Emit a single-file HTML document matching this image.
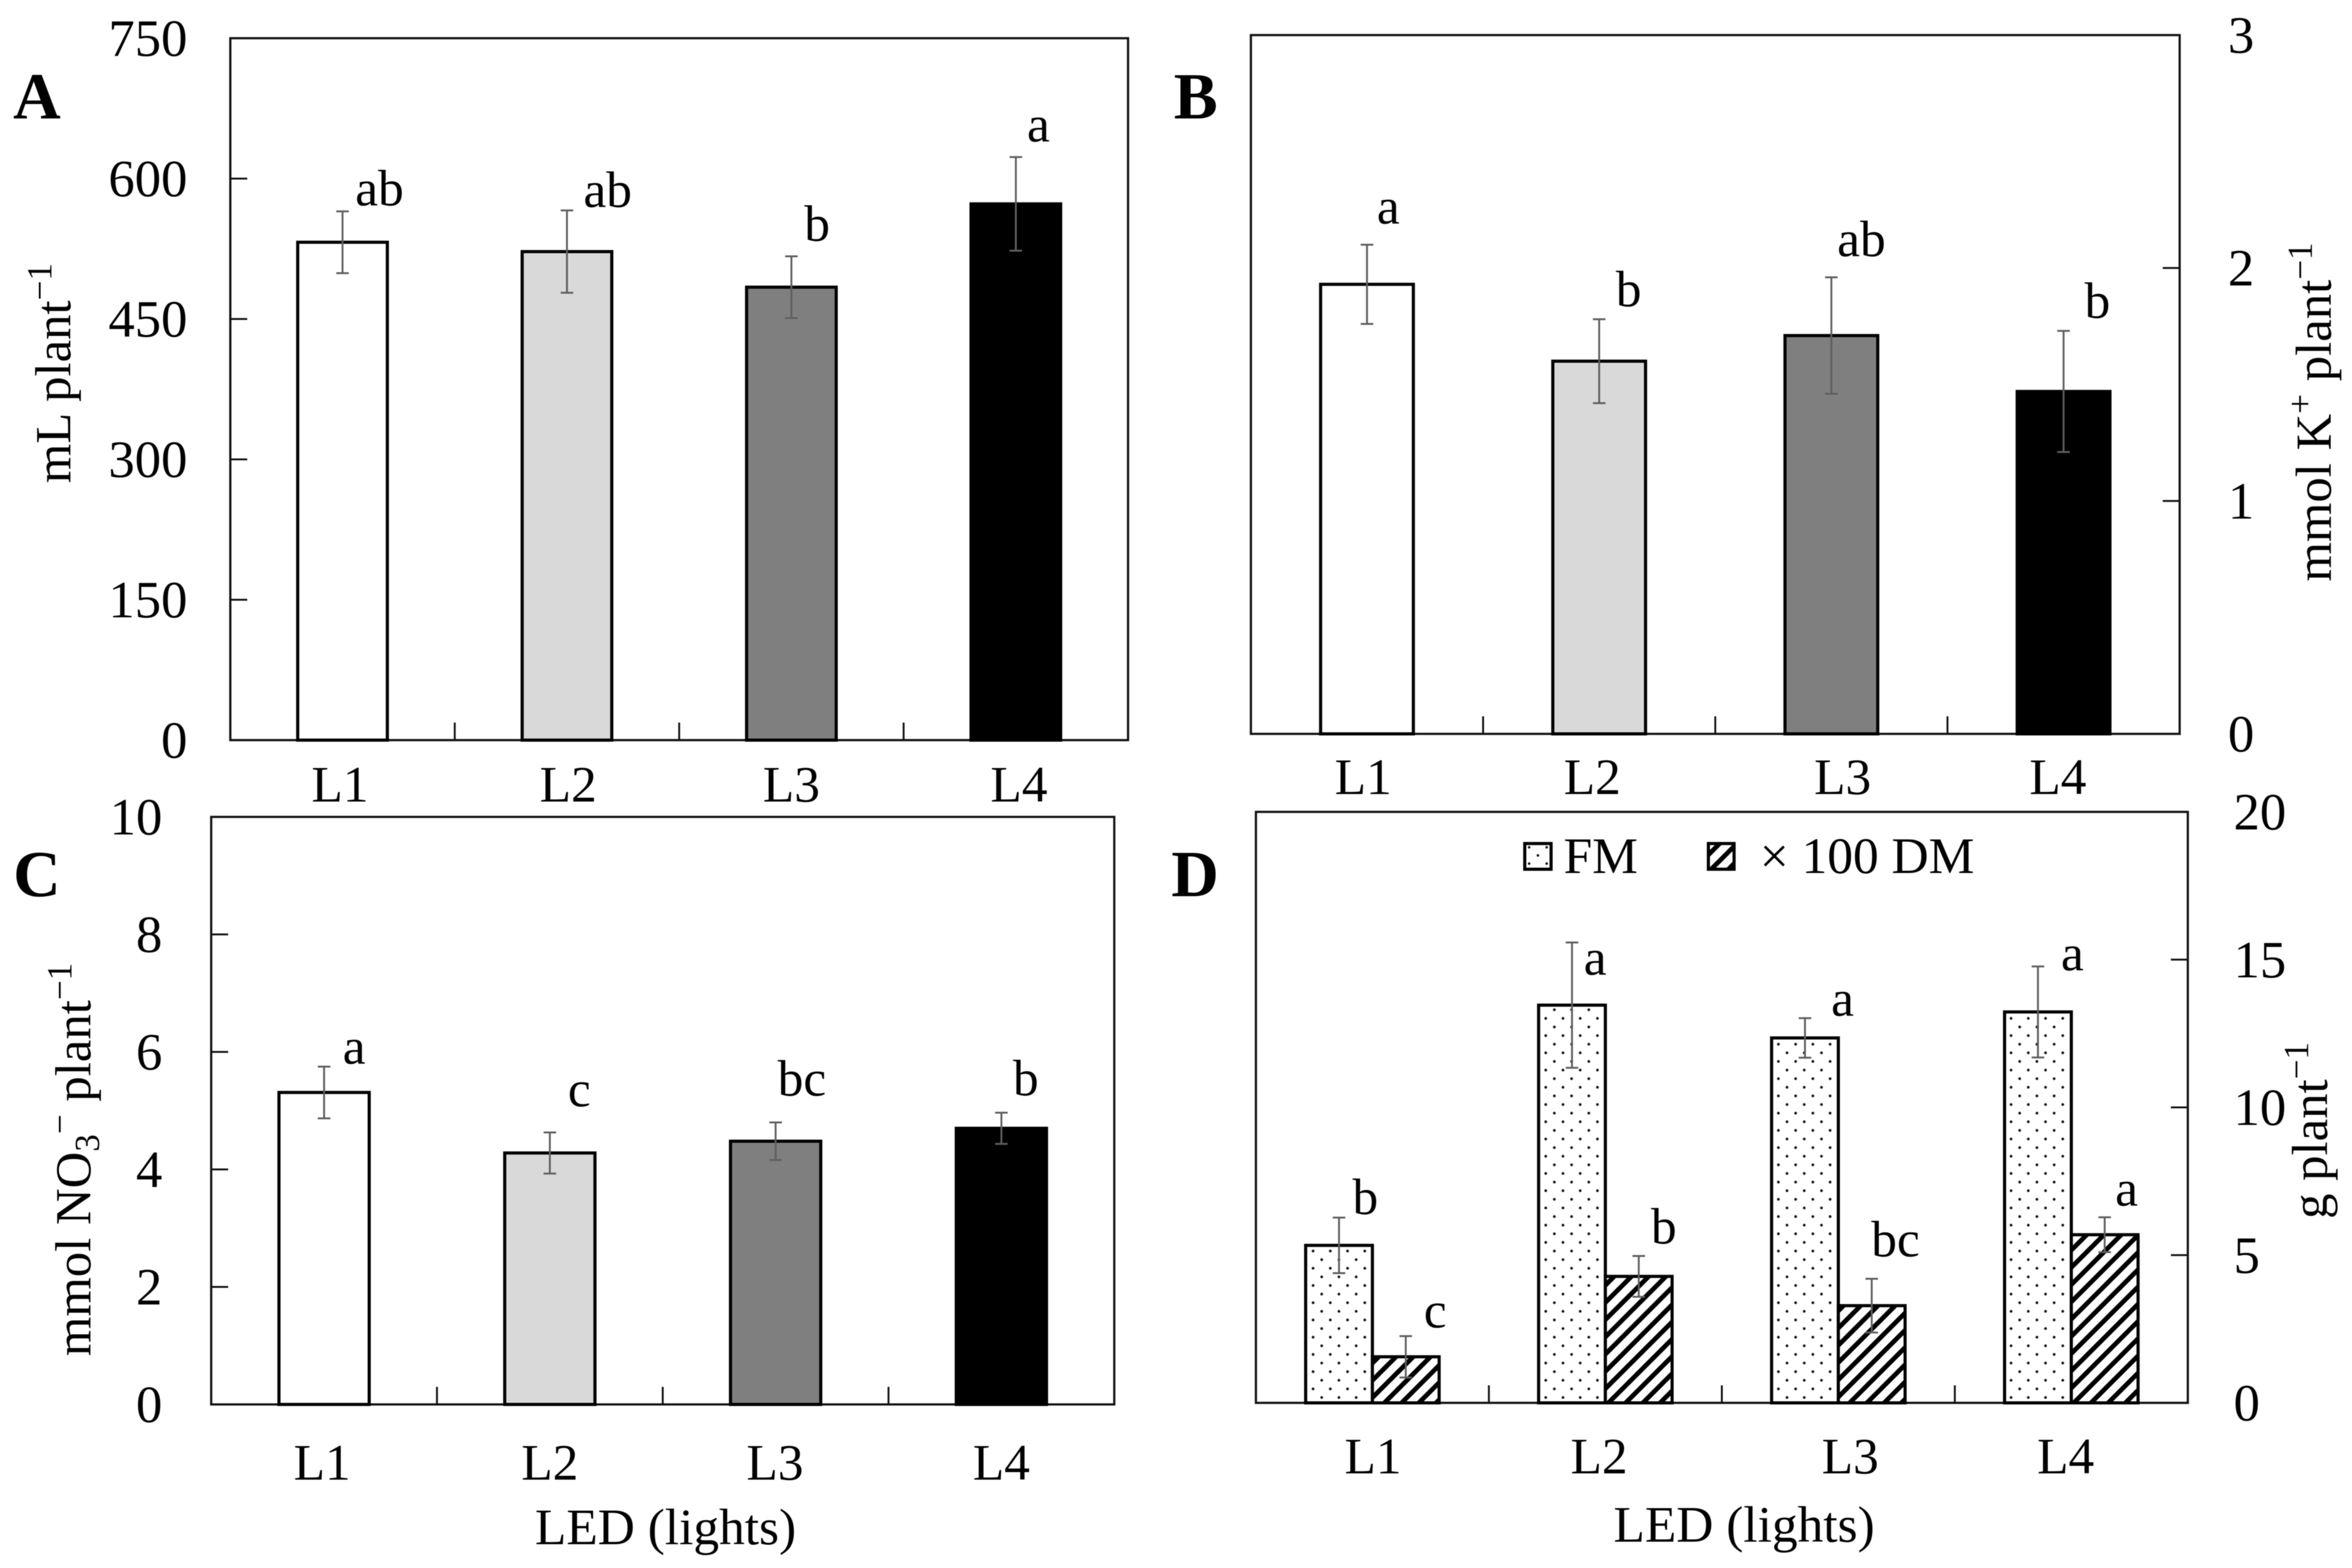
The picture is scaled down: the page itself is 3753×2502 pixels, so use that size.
<!DOCTYPE html>
<html lang="en">
<head>
<meta charset="utf-8">
<title>LED lights bar charts</title>
<style>
html,body{margin:0;padding:0;background:#fff;}
svg{display:block;filter:blur(0.6px);}
text{font-family:"Liberation Serif",serif;fill:#000;}
.title{font-size:81px;}
.panel{font-size:105px;font-weight:bold;}
.axis{font-size:82px;}
.tick{font-size:84px;}
</style>
</head>
<body>
<svg id="chart" xmlns="http://www.w3.org/2000/svg" width="3753" height="2502" viewBox="0 0 3753 2502">
  <defs>
    <pattern id="dots" patternUnits="userSpaceOnUse" width="27.5" height="27.5" patternTransform="translate(2102.1 2223.1)">
      <rect width="27.5" height="27.5" fill="#fff"/>
      <circle cx="6.875" cy="6.875" r="2.2" fill="#111"/>
      <circle cx="20.625" cy="20.625" r="2.2" fill="#111"/>
    </pattern>
    <pattern id="hatch" patternUnits="userSpaceOnUse" width="27.5" height="27.5" patternTransform="translate(20 0)">
      <rect width="27.5" height="27.5" fill="#fff"/>
      <path d="M-5 5L5 -5M0 27.5L27.5 0M22.5 32.5L32.5 22.5" stroke="#000" stroke-width="7.5" fill="none"/>
    </pattern>
  </defs>
  <rect width="3753" height="2502" fill="#fff"/>

  <text class="panel" x="21" y="189">A</text>
  <text class="panel" x="1873" y="189">B</text>
  <text class="panel" x="21" y="1430">C</text>
  <text class="panel" x="1869" y="1430">D</text>

  <text class="title" transform="translate(112 771) rotate(-90)">mL plant<tspan font-size="56" dy="-30">−1</tspan></text>
  <text class="title" transform="translate(3719 928) rotate(-90)">mmol K<tspan font-size="56" dy="-30">+</tspan><tspan dy="30"> plant</tspan><tspan font-size="56" dy="-30">−1</tspan></text>
  <text class="title" transform="translate(144 2164) rotate(-90)">mmol NO<tspan font-size="56" dy="14">3</tspan><tspan font-size="56" dy="-44">−</tspan><tspan dy="30"> plant</tspan><tspan font-size="56" dy="-30">−1</tspan></text>
  <text class="title" transform="translate(3713 1945) rotate(-90)">g plant<tspan font-size="56" dy="-30">−1</tspan></text>

  <text class="axis" x="1062" y="2464" text-anchor="middle">LED (lights)</text>
  <text class="axis" x="2783" y="2460" text-anchor="middle">LED (lights)</text>

  <g id="panels"></g>

  <g>
    <g>
      <rect x="2433" y="1346" width="42" height="41" fill="#fff" stroke="#000" stroke-width="5"/>
      <circle cx="2440" cy="1352" r="2" fill="#111"/>
      <circle cx="2468" cy="1352" r="2" fill="#111"/>
      <circle cx="2454" cy="1365" r="2" fill="#111"/>
      <circle cx="2440" cy="1378" r="2" fill="#111"/>
      <circle cx="2468" cy="1378" r="2" fill="#111"/>
      <text class="axis" x="2495" y="1393">FM</text>
    </g>
    <g>
      <rect x="2726" y="1346" width="41" height="41" fill="url(#hatch)" stroke="#000" stroke-width="5"/>
      <text class="axis" x="2808" y="1393">× 100 DM</text>
    </g>
  </g>
</svg>

<script>
// ---- data ----
const categories = ['L1', 'L2', 'L3', 'L4'];

const aTicks = [0, 150, 300, 450, 600, 750];
const aValues = [532, 522, 484, 573];
const aErrors = [33, 44, 33, 50];
const aLetters = ['ab', 'ab', 'b', 'a'];

const bTicks = [0, 1, 2, 3];
const bValues = [1.93, 1.60, 1.71, 1.47];
const bErrors = [0.17, 0.18, 0.25, 0.26];
const bLetters = ['a', 'b', 'ab', 'b'];

const cTicks = [0, 2, 4, 6, 8, 10];
const cValues = [5.31, 4.28, 4.48, 4.70];
const cErrors = [0.44, 0.35, 0.32, 0.265];
const cLetters = ['a', 'c', 'bc', 'b'];

const dTicks = [0, 5, 10, 15, 20];
const dFmValues = [5.33, 13.46, 12.35, 13.23];
const dFmErrors = [0.94, 2.12, 0.67, 1.54];
const dFmLetters = ['b', 'a', 'a', 'a'];
const dDmValues = [1.56, 4.28, 3.29, 5.69];
const dDmErrors = [0.70, 0.69, 0.91, 0.59];
const dDmLetters = ['c', 'b', 'bc', 'a'];

// ---- layout (geometry only) ----
const panels = [
  { id: 'a', left: 367.5, right: 1800, top: 61, bottom: 1181, side: 'left', labelX: 299, barW: 143,
    ticks: aTicks, catBase: 1279, catNudge: [-4, 2, 0, 5],
    series: [{ id: 'l', values: aValues, errors: aErrors, letters: aLetters, fills: ['#fff', '#d9d9d9', '#7f7f7f', '#000'],
               letterDx: [59, 65, 41, 36], letterLift: [10, 6, 25, 25] }] },
  { id: 'b', left: 1996, right: 3478, top: 56, bottom: 1171, side: 'right', labelX: 3555, barW: 148,
    ticks: bTicks, catBase: 1267, catNudge: [-6, -11, 18, -9],
    series: [{ id: 'l', values: bValues, errors: bErrors, letters: bLetters, fills: ['#fff', '#d9d9d9', '#7f7f7f', '#000'],
               letterDx: [34, 47, 48, 54], letterLift: [34, 21, 34, 21] }] },
  { id: 'c', left: 337, right: 1778, top: 1303.5, bottom: 2241, side: 'left', labelX: 259, barW: 144,
    ticks: cTicks, catBase: 2361, catNudge: [-3, 0, -1, 0],
    series: [{ id: 'l', values: cValues, errors: cErrors, letters: cLetters, fills: ['#fff', '#d9d9d9', '#7f7f7f', '#000'],
               letterDx: [48, 47, 42, 39], letterLift: [5, 42, 43, 28] }] },
  { id: 'd', left: 2004, right: 3491, top: 1295.5, bottom: 2238.5, side: 'right', labelX: 3564, barW: 106.5,
    ticks: dTicks, catBase: 2351, catNudge: [1, -10, 19, -9],
    series: [
      { id: 'fm', values: dFmValues, errors: dFmErrors, letters: dFmLetters, fills: ['url(#dots)', 'url(#dots)', 'url(#dots)', 'url(#dots)'],
        letterDx: [42, 37, 60, 55], letterLift: [6, -51, 4, -6] },
      { id: 'dm', values: dDmValues, errors: dDmErrors, letters: dDmLetters, fills: ['url(#hatch)', 'url(#hatch)', 'url(#hatch)', 'url(#hatch)'],
        letterDx: [47, 40, 38, 35], letterLift: [14, 20, 36, 19] }
    ] }
];

const NS = 'http://www.w3.org/2000/svg';
const root = document.getElementById('panels');

function mk(tag, attrs, parent) {
  const node = document.createElementNS(NS, tag);
  for (const k in attrs) node.setAttribute(k, attrs[k]);
  parent.appendChild(node);
  return node;
}

function drawPanel(p) {
  const maxTick = p.ticks[p.ticks.length - 1];
  const yScale = function (v) { return p.bottom - (v / maxTick) * (p.bottom - p.top); };
  const band = (p.right - p.left) / categories.length;
  const xBand = function (i) { return p.left + band * (i + 0.5); };

  const g = mk('g', {}, root);
  
  

  const frame = mk('rect', { x: p.left, y: p.top, width: p.right - p.left, height: p.bottom - p.top, fill: 'none', stroke: '#111', 'stroke-width': 3.5 }, g);
  
  

  p.ticks.forEach(function (t) {
    const y = yScale(t);
    if (t !== 0 && t !== maxTick) {
      const x1 = p.side === 'left' ? p.left : p.right;
      const x2 = p.side === 'left' ? p.left + 27 : p.right - 27;
      const tick = mk('line', { x1: x1, x2: x2, y1: y, y2: y, stroke: '#111', 'stroke-width': 3 }, g);
      
      
    }
    const lab = mk('text', { x: p.labelX, y: y + 28, 'text-anchor': p.side === 'left' ? 'end' : 'start', class: 'tick' }, g);
    lab.textContent = String(t);
    
    
  });

  categories.forEach(function (c, i) {
    if (i > 0) {
      const x = p.left + band * i;
      const tick = mk('line', { x1: x, x2: x, y1: p.bottom, y2: p.bottom - 28, stroke: '#111', 'stroke-width': 3 }, g);
      
      
    }
    const lab = mk('text', { x: xBand(i) + p.catNudge[i], y: p.catBase, 'text-anchor': 'middle', class: 'axis' }, g);
    lab.textContent = c;
    
    
  });

  const n = p.series.length;
  p.series.forEach(function (s, j) {
    categories.forEach(function (c, i) {
      const cx = xBand(i) + (j - (n - 1) / 2) * p.barW;
      const top = yScale(s.values[i]);
      const suffix = p.id + '-' + s.id + '-' + c.toLowerCase();

      const bar = mk('rect', { x: cx - p.barW / 2, y: top, width: p.barW, height: p.bottom - top, fill: s.fills[i], stroke: '#000', 'stroke-width': 5 }, g);
      
      

      const yHi = yScale(s.values[i] + s.errors[i]);
      const yLo = yScale(s.values[i] - s.errors[i]);
      const err = mk('path', { d: 'M' + (cx - 10) + ' ' + yHi + 'H' + (cx + 10) + 'M' + cx + ' ' + yHi + 'V' + yLo + 'M' + (cx - 10) + ' ' + yLo + 'H' + (cx + 10), fill: 'none', stroke: '#5f5f5f', 'stroke-width': 3 }, g);
      
      

      const letter = mk('text', { x: cx + s.letterDx[i], y: yHi - s.letterLift[i], 'text-anchor': 'middle', class: 'axis' }, g);
      letter.textContent = s.letters[i];
      
      
    });
  });
}

panels.forEach(drawPanel);
</script>
</body>
</html>
